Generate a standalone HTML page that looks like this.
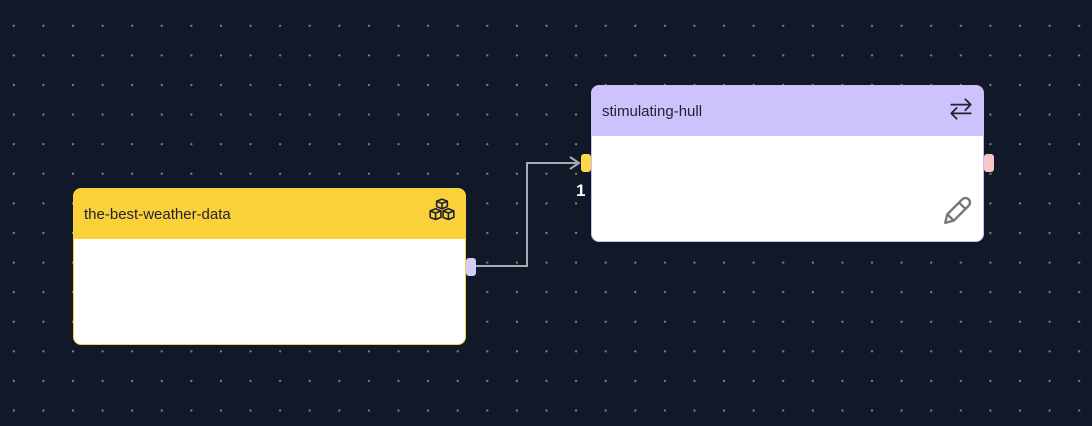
<!DOCTYPE html>
<html><head><style>
body{margin:0;width:1092px;height:426px;overflow:hidden;background:#111827;
background-image:radial-gradient(circle,#7a8191 1px,transparent 1.3px);background-size:29.6px 29.6px;background-position:-1px 11px;font-family:"Liberation Sans",sans-serif;position:relative}
.n{position:absolute;background:#fff;border-radius:8px;overflow:hidden;box-sizing:border-box}
.h{height:50px;display:flex;align-items:center;padding-left:10px;font-size:15px;color:#1f2230;position:relative}
.hd{position:absolute;width:10px;height:18px;border-radius:3px}
</style></head><body>
<div class="n" style="left:73px;top:188px;width:393px;height:157px;border:1px solid #f5d24a">
<div class="h" style="background:#fbd13a">the-best-weather-data
<svg style="position:absolute;right:8px;top:9px" width="30" height="28" viewBox="0 0 28 26" fill="none" stroke="#1f2230" stroke-width="1.5" stroke-linejoin="round"><path d="M9 3l5-2 5 2v5l-5 2-5-2z M9 3l5 2 5-2 M14 5v5"/><path d="M3 12l5-2 5 2v6l-5 2-5-2z M3 12l5 2 5-2 M8 14v6"/><path d="M15 12l5-2 5 2v6l-5 2-5-2z M15 12l5 2 5-2 M20 14v6"/></svg></div></div>
<div class="n" style="left:591px;top:85px;width:393px;height:157px;border:1px solid #c9bff5">
<div class="h" style="background:#cdc2fb">stimulating-hull
<svg style="position:absolute;right:9px;top:10px" width="26" height="26" viewBox="0 0 24 24" fill="none" stroke="#1f2230" stroke-width="1.6" stroke-linecap="round" stroke-linejoin="round"><path d="M3 8h18M16 3l5 5-5 5M21 16H3M8 11l-5 5 5 5"/></svg></div>
<svg style="position:absolute;right:9px;bottom:15px" width="32" height="32" viewBox="0 0 30 30" fill="none" stroke="#777" stroke-width="2.2" stroke-linejoin="round"><path d="M3 27l2-8L19 5a3.5 3.5 0 0 1 6 6L11 25z M16 8l6 6 M5 19l6 6"/></svg></div>
<div class="hd" style="left:466px;top:258px;background:#d4ccf8"></div>
<div class="hd" style="left:581px;top:154px;background:#fcd84a"></div>
<div class="hd" style="left:984px;top:154px;background:#f8c6c6"></div>
<svg style="position:absolute;left:0;top:0" width="1092" height="426"><path d="M476 266H527V163H579M570 157l9 6-9 6" fill="none" stroke="#a8abb3" stroke-width="2"/></svg>
<div style="position:absolute;left:576px;top:181px;color:#fff;font-weight:bold;font-size:17px">1</div>
</body></html>
